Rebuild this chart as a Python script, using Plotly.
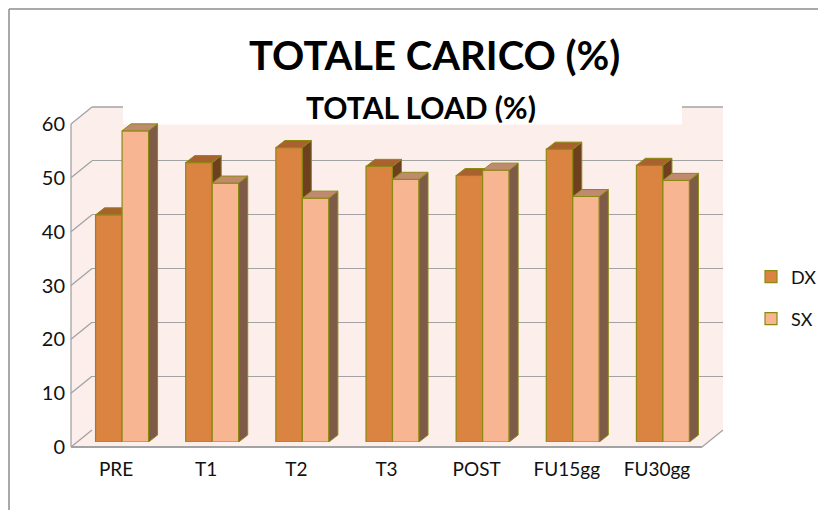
import plotly.graph_objects as go

# ---- data -----------------------------------------------------------------
categories = ["PRE", "T1", "T2", "T3", "POST", "FU15gg", "FU30gg"]
dx_values = [42.2, 51.9, 54.7, 51.2, 49.5, 54.4, 51.4]
sx_values = [57.8, 48.1, 45.3, 48.8, 50.5, 45.6, 48.6]
y_ticks = [0, 10, 20, 30, 40, 50, 60]

# ---- geometry of the pseudo-3D box (pixels) -------------------------------
W_FIG, H_FIG = 818, 510
L, R, T, B = 71, 723, 85, 447          # plotting paper box
PW, PH = R - L, B - T
FRONT_X0, FRONT_X1 = 71, 702           # front plane
FRONT_Y0, FRONT_Y60 = 447, 124
DEPTH_X, DEPTH_Y = 21, 17              # floor / wall depth
BAR_SHIFT_X, BAR_SHIFT_Y = 6, 5        # bars sit a bit behind the front plane
BAR_DEPTH_PX_X, BAR_DEPTH_PX_Y = 9, 7  # bar depth in pixels
Y_MAX = 60
X_RANGE = [-0.5, len(categories) - 0.5]


def px(x):
    return (x - L) / PW


def py(y):
    return (B - y) / PH


front_scale = (FRONT_Y0 - FRONT_Y60) / Y_MAX
back_y0 = FRONT_Y0 - DEPTH_Y
back_y60 = FRONT_Y60 - DEPTH_Y

# data units of the bar depth
cat_px = (FRONT_X1 - FRONT_X0) / (X_RANGE[1] - X_RANGE[0])
ddx = BAR_DEPTH_PX_X / cat_px
ddy = BAR_DEPTH_PX_Y / front_scale
bar_w = 26.5 / cat_px

# ---- colours --------------------------------------------------------------
WALL = "#FCEEEA"
GRID = "#A3A3A3"
EDGE = "#8C8A10"
DX_FRONT, DX_TOP, DX_SIDE = "#DB8341", "#A9612F", "#6E4020"
SX_FRONT, SX_TOP, SX_SIDE = "#F8B592", "#BF8A6E", "#7E5B47"
FONT = "Lato, 'Open Sans', sans-serif"
TEXT = "#111111"

fig = go.Figure()


def faces(values, offset):
    tx, ty, sx_, sy_ = [], [], [], []
    for i, v in enumerate(values):
        xl = i + offset
        xr = xl + bar_w
        tx += [xl, xr, xr + ddx, xl + ddx, xl, None]
        ty += [v, v, v + ddy, v + ddy, v, None]
        sx_ += [xr, xr + ddx, xr + ddx, xr, xr, None]
        sy_ += [0, ddy, v + ddy, v, 0, None]
    return tx, ty, sx_, sy_


# empty traces so the back-wall and front-plane axes are drawn
fig.add_trace(go.Scatter(x=[None], y=[None], xaxis="x", yaxis="y",
                         showlegend=False, hoverinfo="skip"))
fig.add_trace(go.Scatter(x=[None], y=[None], xaxis="x2", yaxis="y2",
                         showlegend=False, hoverinfo="skip"))


def add_series(name, values, offset, front, top, side, xa, ya, legend):
    fig.add_trace(go.Bar(
        x=list(range(len(values))), y=values, name=name,
        offset=offset, width=bar_w,
        marker=dict(color=front, line=dict(color=EDGE, width=1.2)),
        xaxis=xa, yaxis=ya, legend=legend, hoverinfo="skip"))
    tx, ty, sxs, sys = faces(values, offset)
    for xs, ys, col in ((sxs, sys, side), (tx, ty, top)):
        fig.add_trace(go.Scatter(
            x=xs, y=ys, mode="lines", fill="toself", fillcolor=col,
            line=dict(color=EDGE, width=1), showlegend=False,
            xaxis=xa, yaxis=ya, hoverinfo="skip"))


add_series("DX", dx_values, -bar_w, DX_FRONT, DX_TOP, DX_SIDE, "x3", "y3", "legend")
add_series("SX", sx_values, 0.0, SX_FRONT, SX_TOP, SX_SIDE, "x4", "y4", "legend2")

# second title line, clipped by its own subplot box
fig.add_trace(go.Scatter(
    x=[(421 - L) / PW], y=[0.31], mode="text", text=["TOTAL LOAD (%)"],
    textposition="middle center", cliponaxis=True,
    textfont=dict(family=FONT, size=30, color="#000000", weight="bold"),
    showlegend=False, xaxis="x5", yaxis="y5", hoverinfo="skip"))

hidden = dict(showgrid=False, zeroline=False, showticklabels=False, ticks="",
              showline=False, fixedrange=True)

bar_dom_x = [px(FRONT_X0 + BAR_SHIFT_X), px(FRONT_X1 + BAR_SHIFT_X)]
bar_dom_y = [py(FRONT_Y0 - BAR_SHIFT_Y), py(FRONT_Y60 - BAR_SHIFT_Y)]

fig.update_layout(
    width=W_FIG, height=H_FIG,
    margin=dict(l=L, r=W_FIG - R, t=T, b=H_FIG - B, pad=0, autoexpand=False),
    paper_bgcolor="white", plot_bgcolor="rgba(0,0,0,0)",
    barmode="overlay",
    # back wall grid
    xaxis=dict(domain=[px(FRONT_X0 + DEPTH_X), 1], range=X_RANGE, anchor="y", **hidden),
    yaxis=dict(domain=[py(back_y0), py(back_y60)], range=[0, Y_MAX], anchor="x",
               showgrid=True, gridcolor=GRID, gridwidth=1.3,
               tickvals=y_ticks[:-1], showticklabels=False, ticks="",
               zeroline=False, showline=False, fixedrange=True),
    # front plane: tick labels
    xaxis2=dict(domain=[0, px(FRONT_X1)], range=X_RANGE, anchor="y2",
                tickmode="array",
                tickvals=list(range(len(categories))), ticktext=categories,
                showgrid=False, zeroline=False, showline=False, ticks="",
                showticklabels=True, ticklabelstandoff=9,
                tickfont=dict(family=FONT, size=19, color=TEXT), fixedrange=True),
    yaxis2=dict(domain=[0, py(FRONT_Y60)], range=[0, Y_MAX], anchor="x2",
                tickmode="array", tickvals=y_ticks,
                showgrid=False, zeroline=False, showline=False,
                ticks="", showticklabels=True, ticklabelstandoff=5,
                tickfont=dict(family=FONT, size=20, color=TEXT), fixedrange=True),
    # bars
    xaxis3=dict(domain=bar_dom_x, range=X_RANGE, anchor="y3", **hidden),
    yaxis3=dict(domain=bar_dom_y, range=[0, Y_MAX], anchor="x3", **hidden),
    xaxis4=dict(domain=bar_dom_x, range=X_RANGE, anchor="y4", **hidden),
    yaxis4=dict(domain=bar_dom_y, range=[0, Y_MAX], anchor="x4", **hidden),
    # title line 2
    xaxis5=dict(domain=[0, 1], range=[0, 1], anchor="y5", **hidden),
    yaxis5=dict(domain=[py(122.7), 1], range=[0, 1], anchor="x5", **hidden),
    legend=dict(x=px(751), y=py(277), xanchor="left", yanchor="middle",
                font=dict(family=FONT, size=18, color=TEXT),
                bgcolor="rgba(0,0,0,0)", itemwidth=30),
    legend2=dict(x=px(751), y=py(319), xanchor="left", yanchor="middle",
                 font=dict(family=FONT, size=18, color=TEXT),
                 bgcolor="rgba(0,0,0,0)", itemwidth=30),
    showlegend=True,
)

# ---- walls, floor and box edges (paper coordinates) -----------------------
shapes = []


def poly(points, fill, line_col=None, width=0):
    path = "M " + " L ".join(f"{px(x):.5f},{py(y):.5f}" for x, y in points) + " Z"
    shapes.append(dict(type="path", xref="paper", yref="paper", path=path,
                       fillcolor=fill, line=dict(color=line_col or fill, width=width),
                       layer="below"))


def seg(x0, y0, x1, y1, col=GRID, width=1.3):
    shapes.append(dict(type="line", xref="paper", yref="paper",
                       x0=px(x0), y0=py(y0), x1=px(x1), y1=py(y1),
                       line=dict(color=col, width=width), layer="below"))


bx0, bx1 = FRONT_X0 + DEPTH_X, FRONT_X1 + DEPTH_X
poly([(bx0, back_y60), (bx1, back_y60), (bx1, back_y0), (bx0, back_y0)], WALL)
poly([(FRONT_X0, FRONT_Y0), (FRONT_X0, FRONT_Y60), (bx0, back_y60), (bx0, back_y0)], WALL)
poly([(FRONT_X0, FRONT_Y0), (FRONT_X1, FRONT_Y0), (bx1, back_y0), (bx0, back_y0)], WALL)

# side-wall slants at every tick, front axis line, floor edges
back_scale = (back_y0 - back_y60) / Y_MAX
for v in y_ticks:
    seg(FRONT_X0, FRONT_Y0 - v * front_scale, bx0, back_y0 - v * back_scale)
seg(FRONT_X0, FRONT_Y0, FRONT_X0, FRONT_Y60)
seg(FRONT_X0, FRONT_Y0, FRONT_X1, FRONT_Y0, width=2)
seg(FRONT_X1, FRONT_Y0, bx1, back_y0)
seg(bx0, back_y60, bx1, back_y60)

# white title panel over the top of the wall
shapes.append(dict(type="rect", xref="paper", yref="paper",
                   x0=px(123), x1=px(682), y0=py(124.5), y1=py(100),
                   fillcolor="white", line=dict(width=0), layer="below"))

# outer chart frame
shapes.append(dict(type="line", xref="paper", yref="paper",
                   x0=px(9), y0=py(9), x1=px(830), y1=py(9),
                   line=dict(color="#8C8C8C", width=1.5)))
shapes.append(dict(type="line", xref="paper", yref="paper",
                   x0=px(9), y0=py(9), x1=px(9), y1=py(520),
                   line=dict(color="#8C8C8C", width=1.5)))

fig.update_layout(shapes=shapes)

fig.add_annotation(
    text="<b>TOTALE CARICO (%)</b>", xref="paper", yref="paper",
    x=px(434), y=py(55), xanchor="center", yanchor="middle", showarrow=False,
    font=dict(family=FONT, size=40, color="#000000"))

fig.write_html("out.html")
